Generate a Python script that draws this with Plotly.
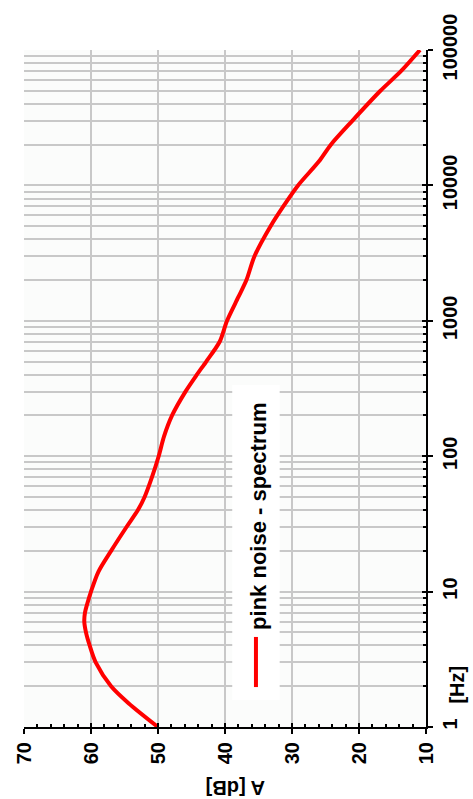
import plotly.graph_objects as go

# Pink-noise spectrum: frequency [Hz] vs level A [dB]
freq_hz = [1, 1.5, 2, 3, 4, 5, 6, 7, 8, 10, 14, 20, 30, 40, 50, 70, 100, 140,
           200, 300, 400, 500, 700, 1000, 1500, 2000, 3000, 5000, 7000, 10000,
           15000, 20000, 30000, 50000, 70000, 100000]
level_db = [50.0, 54.4, 57.0, 59.3, 60.2, 60.75, 61.0, 60.9, 60.6, 60.0, 58.9,
            57.0, 54.7, 53.0, 52.0, 50.9, 49.9, 49.1, 47.9, 45.9, 44.2, 42.8,
            40.8, 39.7, 38.0, 36.8, 35.6, 33.2, 31.3, 29.1, 26.0, 24.2, 21.0,
            16.8, 13.7, 10.9]

db_ticks = [70, 60, 50, 40, 30, 20, 10]
hz_ticks = [1, 10, 100, 1000, 10000, 100000]
hz_labels = ["1", "10", "100", "1000", "10000", "100000"]
hz_minor = [k * 10 ** d for d in range(5) for k in range(2, 10)]

series_name = "pink noise - spectrum"
x_title = "A [dB]"
y_title = "[Hz]"

FONT = "Liberation Sans, Arial, sans-serif"
GRID = "#c8c8c8"

fig = go.Figure()
fig.add_trace(go.Scatter(x=level_db, y=freq_hz, mode="lines",
                         line=dict(color="#ff0000", width=4, shape="spline",
                                   smoothing=0.8),
                         name=series_name, showlegend=False))
# invisible trace so the overlay axes (inner halves of major ticks) are drawn
fig.add_trace(go.Scatter(x=[40], y=[100], xaxis="x2", yaxis="y2",
                         mode="markers", marker=dict(opacity=0),
                         showlegend=False, hoverinfo="skip"))

tickfont = dict(family=FONT, size=20, color="black", weight="bold")

fig.update_layout(
    width=473, height=799,
    margin=dict(l=24, r=42, t=50, b=72),
    paper_bgcolor="#ffffff",
    plot_bgcolor="#fbfcfb",
    showlegend=False,
    xaxis=dict(range=[70, 10], tickvals=db_ticks, tickangle=-90,
               tickfont=tickfont, showgrid=True, gridcolor=GRID, gridwidth=1.5,
               zeroline=False, showline=True, linecolor="black", linewidth=2,
               ticks="outside", ticklen=5, tickwidth=2, tickcolor="black",
               minor=dict(tickvals=list(range(68, 10, -2)), ticks="inside",
                          ticklen=3, tickwidth=1.5, tickcolor="black",
                          showgrid=False)),
    yaxis=dict(type="log", range=[0, 5], side="right", tickvals=hz_ticks,
               ticktext=hz_labels, tickangle=-90, tickfont=tickfont,
               showgrid=True, gridcolor=GRID, gridwidth=1.5, zeroline=False,
               showline=True, linecolor="black", linewidth=2,
               ticks="outside", ticklen=5, tickwidth=2, tickcolor="black",
               minor=dict(tickvals=hz_minor, ticks="inside", ticklen=3,
                          tickwidth=1.5, tickcolor="black", showgrid=True,
                          gridcolor=GRID, gridwidth=1.5)),
    xaxis2=dict(overlaying="x", side="bottom", range=[70, 10],
                tickvals=db_ticks, showticklabels=False, showgrid=False,
                zeroline=False, ticks="inside", ticklen=4, tickwidth=2,
                tickcolor="black", anchor="y2"),
    yaxis2=dict(overlaying="y", side="right", type="log", range=[0, 5],
                tickvals=hz_ticks, showticklabels=False, showgrid=False,
                zeroline=False, ticks="inside", ticklen=4, tickwidth=2,
                tickcolor="black", anchor="x2"),
)

# legend panel drawn vertically inside the plot
fig.add_shape(type="rect", xref="paper", yref="paper",
              x0=0.518, x1=0.636, y0=0.040, y1=0.505,
              fillcolor="#ffffff", line=dict(width=0), layer="above")
fig.add_shape(type="line", xref="paper", yref="paper",
              x0=0.577, x1=0.577, y0=0.059, y1=0.133,
              line=dict(color="#ff0000", width=4), layer="above")
fig.add_annotation(text=series_name, xref="paper", yref="paper",
                   x=0.585, y=0.140, xanchor="center", yanchor="bottom",
                   textangle=-90, showarrow=False,
                   font=dict(family=FONT, size=22, color="black", weight="bold"))

# axis titles
fig.add_annotation(text=x_title, xref="paper", yref="paper",
                   x=0.526, y=-0.089, xanchor="center", yanchor="middle",
                   textangle=180, showarrow=False,
                   font=dict(family=FONT, size=20, color="black", weight="bold"))
fig.add_annotation(text=y_title, xref="paper", yref="paper",
                   x=1.076, y=0.062, xanchor="center", yanchor="middle",
                   textangle=-90, showarrow=False,
                   font=dict(family=FONT, size=20, color="black", weight="bold"))

fig.write_html("out.html")
